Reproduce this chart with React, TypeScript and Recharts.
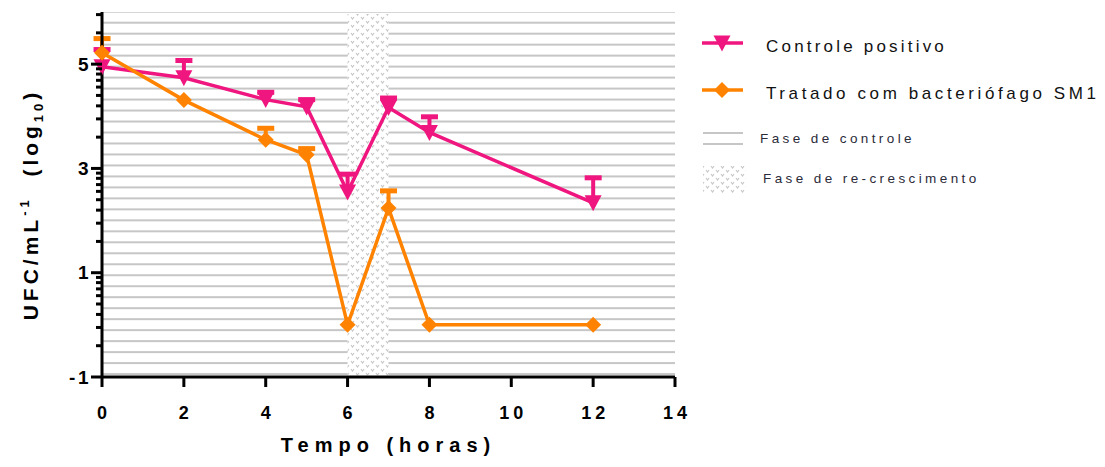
import React from "react";
import {
  ComposedChart,
  Line,
  Bar,
  XAxis,
  YAxis,
  CartesianGrid,
  ReferenceArea,
  Legend,
} from "recharts";

// tempo (h) e UFC/mL (log10), média e erro superior
const horas = [0, 2, 4, 5, 6, 7, 8, 12];
const controlePositivo = [4.95, 4.74, 4.32, 4.18, 2.55, 4.17, 3.69, 2.34];
const controleErro = [0.33, 0.33, 0.14, 0.14, 0.34, 0.18, 0.3, 0.48];
const tratadoSM1 = [5.22, 4.31, 3.55, 3.26, 0, 2.24, 0, 0];
const tratadoErro = [0.27, 0, 0.22, 0.12, 0, 0.33, 0, 0];

const xTicks = [0, 2, 4, 6, 8, 10, 12, 14];
const yMajorTicks = [-1, 1, 3, 5];
// minor ticks GraphPad style (log spacing inside each 2-unit step)
const yMinorSteps = [0.6, 0.95, 1.2, 1.4, 1.56, 1.69, 1.81, 1.91];
const faseRecrescimento = [6, 7];

const PINK = "#f0167f";
const ORANGE = "#ff8300";
const FONT = "'Liberation Sans', Arial, sans-serif";

const data = horas.map((h, i) => ({
  h,
  controle: controlePositivo[i],
  tratado: tratadoSM1[i],
  controleBar:
    controleErro[i] > 0
      ? [controlePositivo[i], controlePositivo[i] + controleErro[i]]
      : null,
  tratadoBar:
    tratadoErro[i] > 0 ? [tratadoSM1[i], tratadoSM1[i] + tratadoErro[i]] : null,
}));

const yTicks = [
  ...yMajorTicks,
  ...yMajorTicks.flatMap((m) => yMinorSteps.map((s) => +(m + s).toFixed(2))),
]
  .filter((v) => v <= 6)
  .sort((a, b) => a - b);

const triPath = (cx: number, cy: number) =>
  `M${cx - 8.5},${cy - 7.5} L${cx + 8.5},${cy - 7.5} L${cx},${cy + 8.5} Z`;
const diamondPath = (cx: number, cy: number) =>
  `M${cx},${cy - 8} L${cx + 8},${cy} L${cx},${cy + 8} L${cx - 8},${cy} Z`;

const TriangleDot = (props: any) => {
  const { cx, cy, index } = props;
  if (cx == null || cy == null) return <g key={`t-${index}`} />;
  return <path key={`t-${index}`} d={triPath(cx, cy)} fill={PINK} />;
};

const DiamondDot = (props: any) => {
  const { cx, cy, index } = props;
  if (cx == null || cy == null) return <g key={`d-${index}`} />;
  return <path key={`d-${index}`} d={diamondPath(cx, cy)} fill={ORANGE} />;
};

// upper-only error bar: stem + cap from a [mean, mean + err] range bar
const errorShape = (key: "controleBar" | "tratadoBar", color: string) =>
  (props: any) => {
    const { x, y, width, height, payload } = props;
    if (!payload || payload[key] == null || !Number.isFinite(y)) return <g />;
    const cx = x + width / 2;
    return (
      <g>
        <rect x={cx - 2} y={y} width={4} height={Math.abs(height)} fill={color} />
        <rect x={cx - 8.5} y={y - 2.5} width={17} height={5} fill={color} />
      </g>
    );
  };

const YTick = (props: any) => {
  const { x, y, payload } = props;
  const v = payload.value;
  const major = yMajorTicks.includes(v);
  return (
    <g>
      <line
        x1={x - (major ? 11 : 6)}
        x2={x}
        y1={y}
        y2={y}
        stroke="#000"
        strokeWidth={3}
      />
      {major && (
        <text
          x={x - 11}
          y={y}
          textAnchor="end"
          dominantBaseline="central"
          fontFamily={FONT}
          fontWeight="bold"
          fontSize={19}
          letterSpacing={2.5}
          fill="#000"
        >
          {v}
        </text>
      )}
    </g>
  );
};

const XTick = (props: any) => {
  const { x, y, payload } = props;
  return (
    <text
      x={x + 2}
      y={y}
      dy="0.71em"
      textAnchor="middle"
      fontFamily={FONT}
      fontWeight="bold"
      fontSize={18}
      letterSpacing={4}
      fill="#000"
    >
      {payload.value}
    </text>
  );
};

const XTitle = (props: any) => {
  const vb = props.viewBox;
  return (
    <text
      x={vb.x + vb.width / 2}
      y={vb.y + 75}
      textAnchor="middle"
      fontFamily={FONT}
      fontWeight="bold"
      fontSize={20}
      letterSpacing={6}
      fill="#000"
    >
      Tempo (horas)
    </text>
  );
};

const YTitle = (props: any) => {
  const vb = props.viewBox;
  const cx = 38;
  const cy = vb.y + vb.height / 2 + 10;
  return (
    <text
      x={cx}
      y={cy}
      transform={`rotate(-90, ${cx}, ${cy})`}
      textAnchor="middle"
      fontFamily={FONT}
      fontWeight="bold"
      fontSize={21}
      letterSpacing={4}
      fill="#000"
    >
      UFC/mL
      <tspan fontSize={13} dy={-9}>
        -1
      </tspan>
      <tspan dy={9}>{"\u00a0\u00a0(log"}</tspan>
      <tspan fontSize={13} dy={5}>
        10
      </tspan>
      <tspan dy={-5}>)</tspan>
    </text>
  );
};

const dotsPattern = (id: string) => (
  <pattern id={id} patternUnits="userSpaceOnUse" width={10} height={8}>
    <rect width={10} height={8} fill="#fff" />
    <path d="M1,1 L2.5,3 L4,1" stroke="#c6c6c6" strokeWidth={1.1} fill="none" />
    <path d="M6,5 L7.5,7 L9,5" stroke="#c6c6c6" strokeWidth={1.1} fill="none" />
  </pattern>
);

const LegendBox = () => (
  <svg width={410} height={180} style={{ display: "block" }}>
    <defs>{dotsPattern("recrescimentoLegenda")}</defs>
    <line x1={7} x2={48} y1={18} y2={18} stroke={PINK} strokeWidth={3.5} />
    <path d={triPath(27, 18)} fill={PINK} />
    <text
      x={71}
      y={27}
      fontFamily={FONT}
      fontSize={17}
      letterSpacing={3.2}
      fill="#111"
    >
      Controle positivo
    </text>
    <line x1={7} x2={48} y1={65} y2={65} stroke={ORANGE} strokeWidth={3.5} />
    <path d={diamondPath(27, 65)} fill={ORANGE} />
    <text
      x={71}
      y={74}
      fontFamily={FONT}
      fontSize={17}
      letterSpacing={3.6}
      fill="#111"
    >
      Tratado com bacteriófago SM1
    </text>
    <rect x={8} y={107} width={40} height={2} fill="#c6c6c6" />
    <rect x={8} y={118} width={40} height={2} fill="#c6c6c6" />
    <text
      x={65}
      y={118}
      fontFamily={FONT}
      fontSize={13.5}
      letterSpacing={3.4}
      fill="#2b2b3a"
    >
      Fase de controle
    </text>
    <rect x={8} y={141} width={43} height={27} fill="url(#recrescimentoLegenda)" />
    <text
      x={68}
      y={158}
      fontFamily={FONT}
      fontSize={13.5}
      letterSpacing={3.4}
      fill="#2b2b3a"
    >
      Fase de re-crescimento
    </text>
  </svg>
);

export default function App() {
  return (
    <div
      style={{
        position: "absolute",
        left: 0,
        top: 0,
        width: 1105,
        height: 467,
        background: "#fff",
      }}
    >
      <ComposedChart
        width={1105}
        height={467}
        data={data}
        margin={{ top: 12, right: 430, bottom: 0, left: 0 }}
        barGap={-3}
      >
        <defs>
          <pattern
            id="faseControle"
            patternUnits="userSpaceOnUse"
            x={0}
            y={21.7}
            width={12}
            height={10.98}
          >
            <rect x={0} y={0} width={12} height={2} fill="#c6c6c6" />
          </pattern>
          {dotsPattern("faseRecrescimento")}
        </defs>
        <CartesianGrid
          horizontal={false}
          vertical={false}
          fill="url(#faseControle)"
          fillOpacity={1}
        />
        <ReferenceArea
          x1={faseRecrescimento[0]}
          x2={faseRecrescimento[1]}
          y1={-0.97}
          y2={5.96}
          fill="url(#faseRecrescimento)"
          fillOpacity={1}
          stroke="none"
        />
        <XAxis
          type="number"
          dataKey="h"
          domain={[0, 14]}
          ticks={xTicks}
          interval={0}
          height={90}
          tickSize={10}
          tickMargin={19}
          axisLine={{ stroke: "#000", strokeWidth: 3 }}
          tickLine={{ stroke: "#000", strokeWidth: 3 }}
          tick={<XTick />}
          label={<XTitle />}
        />
        <YAxis
          type="number"
          domain={[-1, 6]}
          allowDataOverflow
          ticks={yTicks}
          interval={0}
          width={102}
          tickSize={0}
          tickMargin={0}
          axisLine={{ stroke: "#000", strokeWidth: 3 }}
          tickLine={false}
          tick={<YTick />}
          label={<YTitle />}
        />
        <Bar
          dataKey="controleBar"
          barSize={3}
          fill={PINK}
          shape={errorShape("controleBar", PINK)}
          isAnimationActive={false}
        />
        <Bar
          dataKey="tratadoBar"
          barSize={3}
          fill={ORANGE}
          shape={errorShape("tratadoBar", ORANGE)}
          isAnimationActive={false}
        />
        <Line
          type="linear"
          dataKey="controle"
          stroke={PINK}
          strokeWidth={3.5}
          dot={TriangleDot}
          activeDot={false}
          isAnimationActive={false}
        />
        <Line
          type="linear"
          dataKey="tratado"
          stroke={ORANGE}
          strokeWidth={3.5}
          dot={DiamondDot}
          activeDot={false}
          isAnimationActive={false}
        />
        <Legend
          layout="horizontal"
          verticalAlign="middle"
          align="center"
          content={<LegendBox />}
          wrapperStyle={{ left: 695, top: 25, width: 410, height: 180 }}
        />
      </ComposedChart>
    </div>
  );
}
